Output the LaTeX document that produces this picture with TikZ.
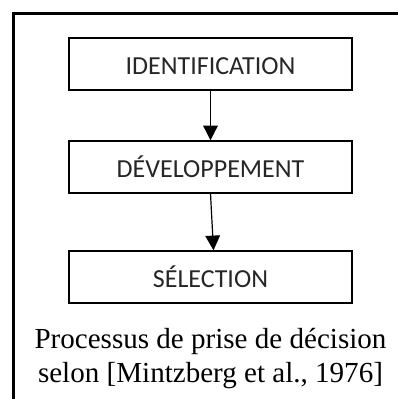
\documentclass[tikz,border=0pt]{standalone}
\usepackage{fontspec}
\setmainfont{Liberation Serif}
\newfontfamily\boxfont{Carlito}
\usetikzlibrary{arrows.meta}
\begin{document}
\begin{tikzpicture}[x=0.75pt,y=-0.75pt,
  stage/.style={draw, line width=1.1pt, minimum width=212.25pt, inner sep=0pt,
    text height=27.4pt, text depth=11.6pt, text=black!85,
    font=\boxfont\fontsize{19.5}{23}\selectfont},
  flow/.style={-{Triangle[length=11pt,width=11pt]}, line width=0.9pt},
  caption/.style={align=center, inner sep=0pt, font=\fontsize{21.8}{25.8}\selectfont}]
\useasboundingbox (0,0) rectangle (398,399);
\draw[line width=1.8pt] (13.5,399) -- (13.5,13.5) -- (398,13.5);
\node[stage] (id) at (210.5,64) {IDENTIFICATION};
\node[stage] (dev) at (210.5,167) {DÉVELOPPEMENT};
\node[stage] (sel) at (210.5,277) {SÉLECTION};
\draw[flow] (id.south) -- (dev.north);
\draw[flow] (dev.south) -- ([xshift=2.25pt]sel.north);
\node[caption, anchor=base] (cap) at (210.5,382.7) {Processus de prise de décision\\selon [Mintzberg et al., 1976]};
\end{tikzpicture}
\end{document}
